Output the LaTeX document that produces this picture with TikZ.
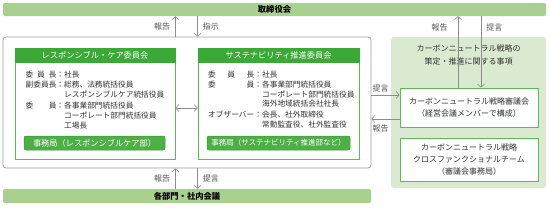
\documentclass[tikz,border=0pt]{standalone}
\usepackage{fontspec}
\setmainfont{Noto Sans CJK JP}
\usetikzlibrary{arrows.meta}
\definecolor{barG}{HTML}{A9D18E}
\definecolor{panelG}{HTML}{D9EAD0}
\definecolor{headG}{HTML}{3AA935}
\definecolor{bordG}{HTML}{5DBB55}
\definecolor{btnG}{HTML}{4DAF45}
\definecolor{btnB}{HTML}{3C9A36}
\definecolor{lineG}{HTML}{8C8C8C}
\definecolor{frameG}{HTML}{A0A0A0}
\definecolor{txtC}{HTML}{333333}
\definecolor{lblC}{HTML}{555555}
\begin{document}
\begin{tikzpicture}[x=1pt,y=-1pt,
  font=\fontsize{7.7}{9}\selectfont,
  bar/.style={fill=barG, draw=none, rounded corners=2pt, inner sep=0pt, text=black, font=\fontsize{8.3}{9}\selectfont\bfseries},
  frame/.style={draw=frameG, line width=0.8pt, rounded corners=3pt, inner sep=0pt},
  comm/.style={draw=bordG, line width=0.9pt, fill=white, inner sep=0pt},
  head/.style={fill=headG, draw=headG, line width=0.9pt, inner sep=0pt, text=white, font=\fontsize{8.2}{9}\selectfont},
  btn/.style={fill=btnG, draw=btnB, line width=0.5pt, rounded corners=2pt, inner sep=0pt, text=white, font=\fontsize{8.2}{9}\selectfont},
  panel/.style={fill=panelG, draw=none, rounded corners=3pt, inner sep=0pt},
  cnbox/.style={draw=bordG, line width=0.9pt, fill=white, inner sep=0pt, align=center, text=txtC, font=\fontsize{8}{12}\selectfont},
  txt/.style={inner sep=0pt, text=txtC},
  lbl/.style={inner sep=0pt, text=lblC, font=\fontsize{8}{9}\selectfont},
  arr/.style={draw=lineG, line width=0.6pt, -{Straight Barb[length=3pt,width=7pt]}},
  darr/.style={draw=lineG, line width=0.6pt, {Straight Barb[length=3pt,width=7pt]}-{Straight Barb[length=3pt,width=7pt]}}
]
\useasboundingbox (0,0) rectangle (549,209);

% bars
\node[bar, minimum width=543pt, minimum height=13pt] (board) at (274.5,9.5) {取締役会};
\node[bar, minimum width=368pt, minimum height=14pt] (bot) at (187,196) {各部門・社内会議};

% left group frame
\node[frame, minimum width=368pt, minimum height=131pt] (grp) at (187,102.5) {};

% committees
\node[comm, minimum width=160pt, minimum height=111pt] (rc) at (95,103.5) {};
\node[head, minimum width=160pt, minimum height=14pt, anchor=north] (rch) at (rc.north) {レスポンシブル・ケア委員会};
\node[comm, minimum width=161pt, minimum height=111pt] (sc) at (278.5,103.5) {};
\node[head, minimum width=161pt, minimum height=14pt, anchor=north] (sch) at (sc.north) {サステナビリティ推進委員会};

% left committee text
\node[txt, anchor=west] (l1) at (25.5,75) {\makebox[30.8pt][s]{委\hfill 員\hfill 長}：社長};
\node[txt, anchor=west] (l2) at (25.5,85) {\makebox[30.8pt][s]{副委員長}：総務、法務統括役員};
\node[txt, anchor=west] (l3) at (64,95) {レスポンシブルケア統括役員};
\node[txt, anchor=west] (l4) at (25.5,105.5) {\makebox[30.8pt][s]{委\hfill 員}：各事業部門統括役員};
\node[txt, anchor=west] (l5) at (64,115.5) {コーポレート部門統括役員};
\node[txt, anchor=west] (l6) at (64,125.5) {工場長};

% right committee text
\node[txt, anchor=west] (r1) at (208,75) {\makebox[46.2pt][s]{委\hfill 員\hfill 長}：社長};
\node[txt, anchor=west] (r2) at (208,85) {\makebox[46.2pt][s]{委\hfill 員}：各事業部門統括役員};
\node[txt, anchor=west] (r3) at (261.9,94.5) {コーポレート部門統括役員};
\node[txt, anchor=west] (r4) at (261.9,104) {海外地域統括会社社長};
\node[txt, anchor=west] (r5) at (208,115) {\makebox[46.2pt][s]{オブザーバー}：会長、社外取締役};
\node[txt, anchor=west] (r6) at (261.9,124.5) {常勤監査役、社外監査役};

% buttons
\node[btn, minimum width=141pt, minimum height=14pt] (rcb) at (94.5,143) {事務局（レスポンシブルケア部）};
\node[btn, minimum width=143pt, minimum height=14pt, font=\fontsize{7.5}{9}\selectfont] (scb) at (278.5,143) {事務局（サステナビリティ推進部など）};

% right panel
\node[panel, minimum width=155pt, minimum height=151pt] (pan) at (468.5,112.5) {};
\node[txt, font=\fontsize{8}{9}\selectfont] (pt1) at (468.5,48) {カーボンニュートラル戦略の};
\node[txt, font=\fontsize{8}{9}\selectfont] (pt2) at (468.5,61) {策定・推進に関する事項};
\node[cnbox, minimum width=138pt, minimum height=39pt] (cnc) at (469,107.5) {カーボンニュートラル戦略審議会\\（経営会議メンバーで構成）};
\node[cnbox, minimum width=138pt, minimum height=43pt] (cnt) at (469,159.5) {カーボンニュートラル戦略\\クロスファンクショナルチーム\\（審議会事務局）};

% arrows top-left
\draw[arr] (grp.north -| rc.east) -- (board.south -| rc.east) node[lbl, midway, left=5pt] (a1) {報告};
\draw[arr] (board.south -| sc.west) -- (grp.north -| sc.west) node[lbl, midway, right=5pt] (a2) {指示};

% arrows bottom
\draw[arr] (bot.north -| rc.east) -- (grp.south -| rc.east) node[lbl, midway, left=5pt] (a3) {報告};
\draw[arr] (grp.south -| sc.west) -- (bot.north -| sc.west) node[lbl, midway, right=5pt] (a4) {提言};

% between committees
\coordinate (m1) at ([yshift=-4.5pt]rc.east);
\draw[darr] (m1) -- (sc.west |- m1);

% top-right arrows
\coordinate (q1) at ([xshift=-11pt]cnc.north);
\coordinate (q2) at ([xshift=12pt]cnc.north);
\draw[arr] (q1) -- (board.south -| q1) node[lbl, pos=0.84, left=10pt] (a5) {報告};
\draw[arr] (board.south -| q2) -- (q2) node[lbl, pos=0.16, right=5pt] (a6) {提言};

% horizontal arrows
\coordinate (p1) at ([yshift=12.5pt]cnc.west);
\coordinate (p2) at ([yshift=-11.5pt]cnc.west);
\draw[arr] (grp.east |- p1) -- (p1) node[lbl, pos=0, anchor=south west, yshift=3pt, xshift=1pt] (a7) {提言};
\draw[arr] (p2) -- (grp.east |- p2) node[lbl, pos=1, anchor=north west, yshift=-5pt, xshift=1pt] (a8) {報告};
\end{tikzpicture}
\end{document}
